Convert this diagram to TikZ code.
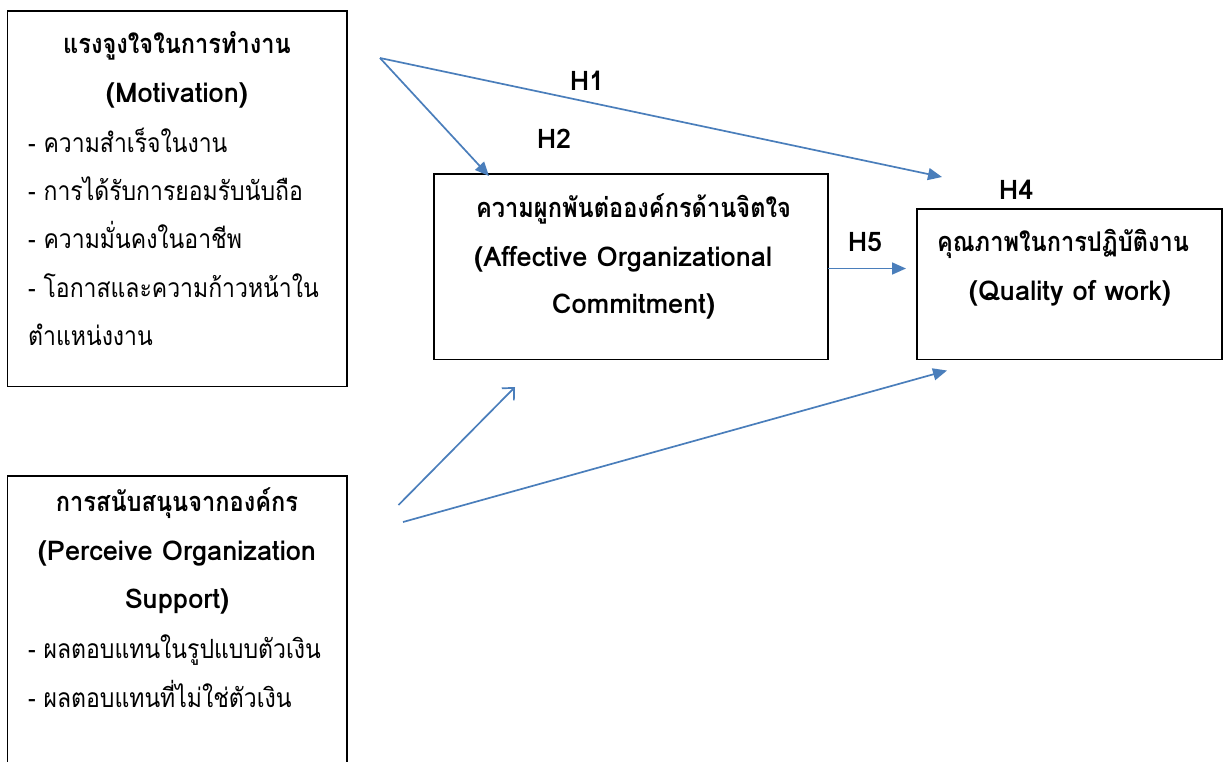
\documentclass[tikz,border=0pt]{standalone}
\usepackage{fontspec}
\newfontfamily\thaifont[Script=Thai]{Loma}
\usetikzlibrary{arrows.meta}
\definecolor{arrowblue}{HTML}{4A7EBB}
\newcommand{\tallth}[1]{\scalebox{1}[1.15]{#1}}
\begin{document}
\begin{tikzpicture}[x=1pt,y=-1pt,
  box/.style={draw=black, line width=1.8pt, inner sep=0pt},
  conn/.style={draw=arrowblue, line width=1.7pt},
  filledhead/.style={-{Triangle[length=14pt,width=12pt]}},
  openhead/.style={-{Straight Barb[length=9pt,width=17pt]}},
  ttl/.style={font=\thaifont\bfseries\fontsize{23.6}{28}\selectfont, inner sep=0pt, anchor=base},
  eng/.style={font=\thaifont\bfseries\fontsize{27.2}{32}\selectfont, inner sep=0pt, anchor=base},
  itm/.style={font=\thaifont\fontsize{23}{28}\selectfont, inner sep=0pt, anchor=base west},
  hlab/.style={font=\thaifont\bfseries\fontsize{27}{32}\selectfont, inner sep=0pt, anchor=base}]
\useasboundingbox (0,0) rectangle (1225,761);
\clip (0,0) rectangle (1225,761);
% boxes
\node[box, minimum width=339.5, minimum height=375.5] (mot) at (177.25,198.75) {};
\node[box, minimum width=339.5, minimum height=314] (pos) at (177.25,633) {};
\node[box, minimum width=394, minimum height=185.5] (aoc) at (631,266.75) {};
\node[box, minimum width=305, minimum height=150.5] (qow) at (1069.5,284.25) {};
% motivation text
\node[ttl] (motT) at (177,53) {\tallth{แรงจูงใจในการทำงาน}};
\node[eng] (motE) at (177,102) {(Motivation)};
\node[itm] (mot1) at (28,152) {\tallth{- ความสำเร็จในงาน}};
\node[itm] (mot2) at (28,200) {\tallth{- การได้รับการยอมรับนับถือ}};
\node[itm] (mot3) at (28,248) {\tallth{- ความมั่นคงในอาชีพ}};
\node[itm] (mot4) at (28,297) {\tallth{- โอกาสและความก้าวหน้าใน}};
\node[itm] (mot5) at (28,345) {\tallth{ตำแหน่งงาน}};
% perceived support text
\node[ttl] (posT) at (177,511.5) {\tallth{การสนับสนุนจากองค์กร}};
\node[eng] (posE1) at (177,560) {(Perceive Organization};
\node[eng] (posE2) at (177,608) {Support)};
\node[itm] (pos1) at (28,658) {\tallth{- ผลตอบแทนในรูปแบบตัวเงิน}};
\node[itm] (pos2) at (28,707) {\tallth{- ผลตอบแทนที่ไม่ใช่ตัวเงิน}};
% affective commitment text
\node[ttl] (aocT) at (633.5,217) {\tallth{ความผูกพันต่อองค์กรด้านจิตใจ}};
\node[eng, anchor=base west] (aocE1) at (474,266) {(Affective Organizational};
\node[eng] (aocE2) at (633.5,313.5) {Commitment)};
% quality of work text
\node[ttl] (qowT) at (1063,251.5) {\tallth{คุณภาพในการปฏิบัติงาน}};
\node[eng] (qowE) at (1070,300) {(Quality of work)};
% hypothesis labels
\node[hlab] (h1) at (587,90) {H1};
\node[hlab] (h2) at (554,148) {H2};
\node[hlab] (h4) at (1016,199) {H4};
\node[hlab] (h5) at (865,251) {H5};
% connector end points
\coordinate (mStart) at (380,58);
\coordinate (h2End) at (489,176);
\coordinate (h1End) at (942,177);
\coordinate (h5Start) at (828,268.5);
\coordinate (h5End) at (906,268.5);
\coordinate (sStart) at (398.5,505);
\coordinate (sEnd) at (515,387);
\coordinate (lStart) at (403,522);
\coordinate (lEnd) at (947,370.5);
% connectors
\draw[conn, filledhead] (mStart) -- (h2End);
\draw[conn, filledhead] (mStart) -- (h1End);
\draw[conn, filledhead] (h5Start) -- (h5End);
\draw[conn, openhead] (sStart) -- (sEnd);
\draw[conn, filledhead] (lStart) -- (lEnd);
\end{tikzpicture}
\end{document}
